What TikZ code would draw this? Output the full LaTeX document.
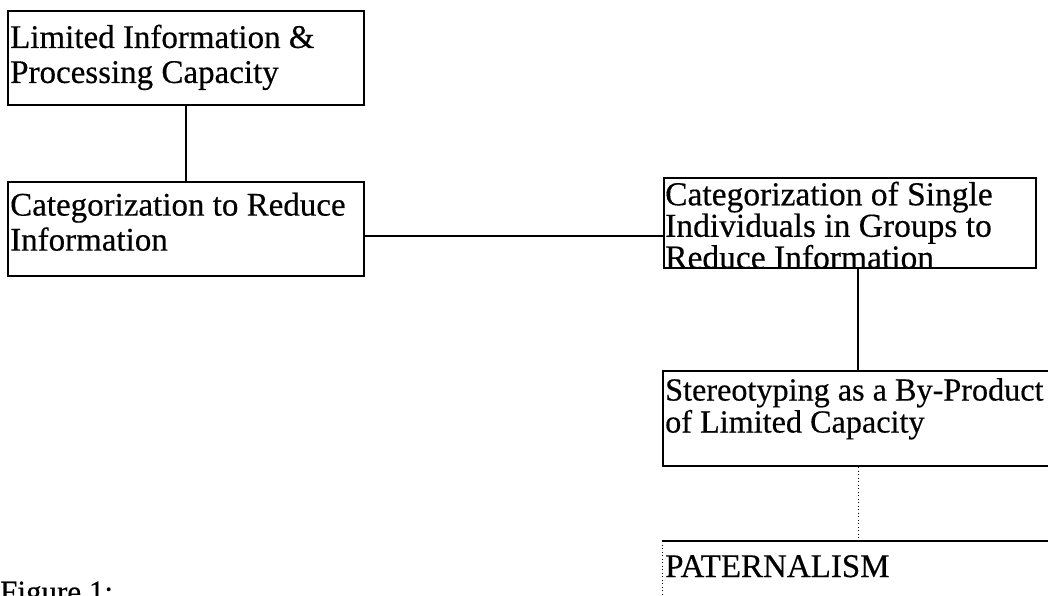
\documentclass[tikz,border=0pt]{standalone}
\usepackage{fontspec}
\setmainfont{Liberation Serif}[FakeBold=0.4]
\begin{document}
\begin{tikzpicture}[x=1pt,y=-1pt,
  box/.style={draw, line width=2pt, rectangle, inner sep=0pt, anchor=north west},
  txt/.style={anchor=north west, inner sep=0pt, align=left},
  link/.style={line width=2pt},
  dotlink/.style={line width=0.9pt, dash pattern=on 1pt off 2.5pt}]
\useasboundingbox (0,0) rectangle (1048,595);
\fill[white] (0,0) rectangle (1048,595);
% boxes
\node[box, minimum width=356pt, minimum height=94pt] (b1) at (7,10) {};
\node[box, minimum width=356pt, minimum height=94pt] (b2) at (7,181) {};
\node[box, minimum width=372pt, minimum height=90pt] (b3) at (663,177) {};
\node[box, minimum width=420pt, minimum height=95pt] (b4) at (662,370) {};
\coordinate (b5nw) at (662,541);
\coordinate (b5ne) at (1060,541);
\coordinate (b5sw) at (662,600);
% texts
\node[txt, font=\fontsize{33}{35}\selectfont] (t1) at (10,24.5) {Limited Information \&\\Processing Capacity};
\node[txt, font=\fontsize{33}{35}\selectfont] (t2) at (10,192.5) {Categorization to Reduce\\Information};
\node[txt, font=\fontsize{33.5}{29.5}\selectfont] (t3) at (665,181.5) {Categorization of Single\\Individuals in Groups to\\Reduce Information};
\node[txt, font=\fontsize{32.2}{32}\selectfont] (t4) at (665,378) {Stereotyping as a By-Product\\of Limited Capacity};
\node[anchor=base west, inner sep=0pt, font=\fontsize{33}{35}\selectfont] (t5) at (665,577) {PATERNALISM};
\node[anchor=base west, inner sep=0pt, font=\fontsize{31}{35}\selectfont] (fig) at (0,602) {Figure 1:};
% connectors
\draw[link] (b1.south) -- (b2.north);
\draw[link] (b2.east |- 0,236) -- (b3.west |- 0,236);
\draw[link] (b3.south -| 858,0) -- (b4.north -| 858,0);
\draw[dotlink] (b4.south -| 858,0) -- (b5nw -| 858,0);
% paternalism box (partly visible)
\draw[link] (b5nw) -- (b5ne);
\draw[dotlink] (b5nw) -- (b5sw);
\end{tikzpicture}
\end{document}
